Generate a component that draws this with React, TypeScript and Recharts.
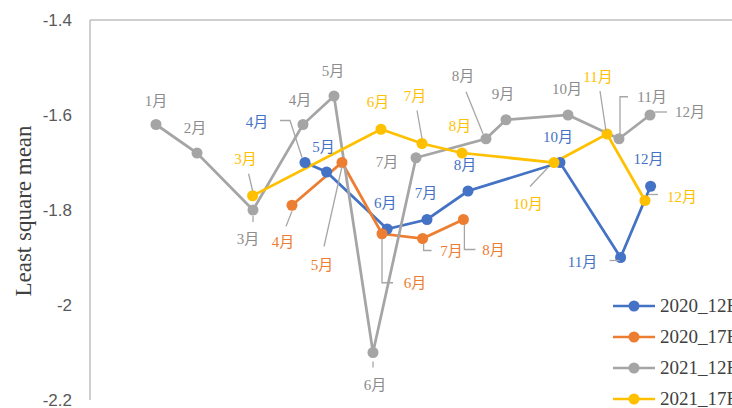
import React from 'react';
import { LineChart, Line, XAxis, YAxis, LabelList, ReferenceLine } from 'recharts';

// horizontal position of every sample (hidden x axis)
const months2020_12B = ['4月', '5月', '6月', '7月', '8月', '10月', '11月', '12月'];
const x2020_12B = [107.5, 118.3, 148.6, 168.5, 189, 235, 265.3, 280.3];
const lsm2020_12B = [-1.70, -1.72, -1.84, -1.82, -1.76, -1.70, -1.90, -1.75];

const months2020_17B = ['4月', '5月', '6月', '7月', '8月'];
const x2020_17B = [101, 126, 146, 166.3, 186.7];
const lsm2020_17B = [-1.79, -1.70, -1.85, -1.86, -1.82];

const months2021_12B = ['1月', '2月', '3月', '4月', '5月', '6月', '7月', '8月', '9月', '10月', '11月', '12月'];
const x2021_12B = [33, 53.5, 81.5, 106.5, 122, 141.5, 163, 198, 208, 239, 264.5, 280];
const lsm2021_12B = [-1.62, -1.68, -1.80, -1.62, -1.56, -2.10, -1.69, -1.65, -1.61, -1.60, -1.65, -1.60];

const months2021_17B = ['3月', '6月', '7月', '8月', '10月', '11月', '12月'];
const x2021_17B = [81.3, 145.5, 166, 186, 232, 258.5, 277.5];
const lsm2021_17B = [-1.77, -1.63, -1.66, -1.68, -1.70, -1.64, -1.78];

const yTicks = [-2.2, -2, -1.8, -1.6, -1.4];

const build = (months: string[], xs: number[], vals: number[]) =>
  months.map((m, i) => ({ month: m, x: xs[i], lsm: vals[i] }));

// data label placement (offset from the point, optional leader line)
type LabelPos = { dx: number; dy: number; leader?: [number, number][] };

const labels2020_12B: Record<string, LabelPos> = {
  '4月': { dx: -48, dy: -41, leader: [[-25, -42], [-15, -42], [-3, -5]] },
  '5月': { dx: -3, dy: -25 },
  '6月': { dx: -2, dy: -26 },
  '7月': { dx: -1, dy: -27 },
  '8月': { dx: -3, dy: -26 },
  '10月': { dx: -2, dy: -26 },
  '11月': { dx: -38, dy: 4, leader: [[-11, 3], [-1, 3]] },
  '12月': { dx: -2, dy: -27 },
};

const labels2020_17B: Record<string, LabelPos> = {
  '4月': { dx: -9, dy: 37, leader: [[-6, 21], [0, 6]] },
  '5月': { dx: -20, dy: 102, leader: [[-18, 84], [0, 4]] },
  '6月': { dx: 33, dy: 49, leader: [[0, 5], [0, 49], [11, 49]] },
  '7月': { dx: 29, dy: 12, leader: [[1, 5], [1, 12], [9, 12]] },
  '8月': { dx: 30, dy: 30, leader: [[1, 5], [1, 30], [12, 30]] },
};

const labels2021_12B: Record<string, LabelPos> = {
  '1月': { dx: 0, dy: -24 },
  '2月': { dx: -2, dy: -25 },
  '3月': { dx: -5, dy: 29, leader: [[0, 6], [0, 12]] },
  '4月': { dx: -3, dy: -25 },
  '5月': { dx: -1, dy: -25 },
  '6月': { dx: 2, dy: 32, leader: [[0, 9], [0, 15]] },
  '7月': { dx: -29, dy: 4 },
  '8月': { dx: -23, dy: -63, leader: [[-20, -47], [-3, -5]] },
  '9月': { dx: -3, dy: -26 },
  '10月': { dx: -1, dy: -26 },
  '11月': { dx: 33, dy: -42, leader: [[9, -42], [1, -42], [1, -4]] },
  '12月': { dx: 40, dy: -3, leader: [[5, -3], [17, -3]] },
};

const labels2021_17B: Record<string, LabelPos> = {
  '3月': { dx: -7, dy: -37, leader: [[-4, -22], [0, -5]] },
  '6月': { dx: -3, dy: -27 },
  '7月': { dx: -7, dy: -48, leader: [[-5, -33], [0, -5]] },
  '8月': { dx: -2, dy: -27 },
  '10月': { dx: -26, dy: 41, leader: [[-24, 24], [-6, 5]] },
  '11月': { dx: -9, dy: -57, leader: [[-7, -43], [-1, -3]] },
  '12月': { dx: 37, dy: -4, leader: [[3, -6], [13, -6]] },
};

const series = [
  { name: '2020_12B', data: build(months2020_12B, x2020_12B, lsm2020_12B), color: '#4472C4', text: '#4472C4', labels: labels2020_12B },
  { name: '2020_17B', data: build(months2020_17B, x2020_17B, lsm2020_17B), color: '#ED7D31', text: '#ED7D31', labels: labels2020_17B },
  { name: '2021_12B', data: build(months2021_12B, x2021_12B, lsm2021_12B), color: '#A5A5A5', text: '#8C8C8C', labels: labels2021_12B },
  { name: '2021_17B', data: build(months2021_17B, x2021_17B, lsm2021_17B), color: '#FFC000', text: '#FFC000', labels: labels2021_17B },
];

const labelFont = '"Liberation Serif", "Noto Sans CJK SC", serif';

const makeLabel = (layout: Record<string, LabelPos>, color: string) => (props: any) => {
  const { x, y, value } = props;
  const pos = layout[value];
  if (!pos || x == null || y == null) return null;
  return (
    <g>
      {pos.leader && (
        <polyline
          points={pos.leader.map(([a, b]) => `${x + a},${y + b}`).join(' ')}
          fill="none"
          stroke="#A6A6A6"
          strokeWidth={1.3}
        />
      )}
      <text
        x={x + pos.dx}
        y={y + pos.dy}
        textAnchor="middle"
        dominantBaseline="central"
        fill={color}
        fontSize={15}
        fontFamily={labelFont}
      >
        {value}
      </text>
    </g>
  );
};

const LegendBox = () => (
  <div
    style={{
      position: 'absolute',
      left: 612,
      top: 290,
      fontFamily: '"Liberation Serif", serif',
      fontSize: 19,
      color: '#404040',
    }}
  >
    {series.map((s) => (
      <div key={s.name} style={{ display: 'flex', alignItems: 'center', height: 31, whiteSpace: 'nowrap' }}>
        <svg width={46} height={14} style={{ marginRight: 2 }}>
          <line x1={1} y1={7} x2={43} y2={7} stroke={s.color} strokeWidth={2.5} />
          <circle cx={22} cy={7} r={5.5} fill={s.color} />
        </svg>
        <span>{s.name}</span>
      </div>
    ))}
  </div>
);

export default function App() {
  return (
    <div style={{ position: 'absolute', left: 0, top: 0, width: 732, height: 408, overflow: 'hidden', background: '#fff' }}>
      <LineChart width={800} height={408} margin={{ top: 20, right: 10, left: 0, bottom: 8 }}>
        <XAxis type="number" dataKey="x" domain={[0, 350]} hide allowDuplicatedCategory={false} />
        <YAxis
          type="number"
          domain={[-2.2, -1.4]}
          ticks={yTicks}
          interval={0}
          width={90}
          tickLine={false}
          tickSize={6}
          tickMargin={12}
          axisLine={{ stroke: '#BFBFBF', strokeWidth: 1.5 }}
          tick={{ fill: '#595959', fontSize: 17, fontFamily: '"Liberation Sans", sans-serif' }}
          tickFormatter={(v: number) => String(Math.round(v * 10) / 10)}
          label={{
            content: () => (
              <text
                transform="translate(23,211) rotate(-90)"
                textAnchor="middle"
                dominantBaseline="central"
                fill="#404040"
                fontSize={23}
                fontFamily='"Liberation Serif", serif'
              >
                Least square mean
              </text>
            ),
          }}
        />
        <ReferenceLine y={-1.4} stroke="#BFBFBF" strokeWidth={1.5} ifOverflow="visible" />
        {series.map((s) => (
          <Line
            key={s.name}
            name={s.name}
            data={s.data}
            dataKey="lsm"
            stroke={s.color}
            strokeWidth={2.75}
            dot={{ r: 5.5, fill: s.color, stroke: s.color, strokeWidth: 0 }}
            activeDot={false}
            isAnimationActive={false}
          >
            <LabelList dataKey="month" content={makeLabel(s.labels, s.text)} />
          </Line>
        ))}
      </LineChart>
      <LegendBox />
    </div>
  );
}
